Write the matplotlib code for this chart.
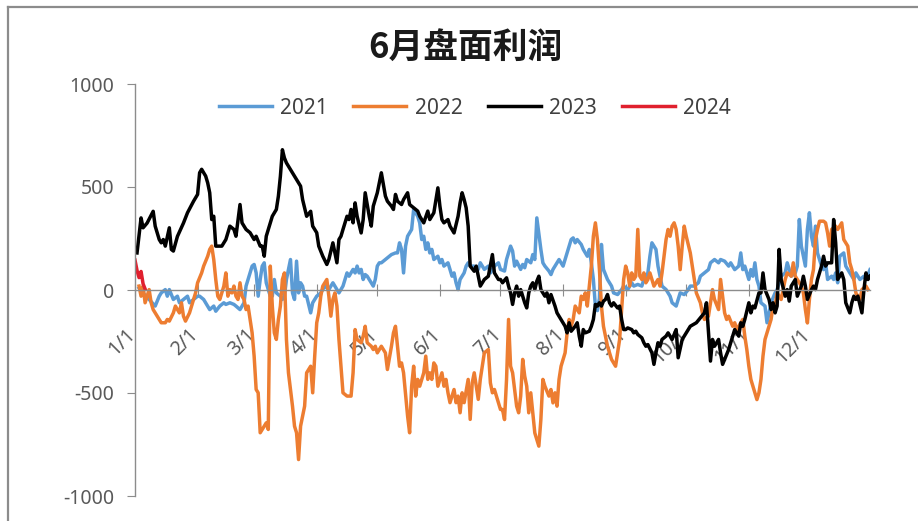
import matplotlib
matplotlib.use('Agg')
import matplotlib.pyplot as plt
import matplotlib.dates as mdates
from matplotlib.lines import Line2D
from matplotlib.transforms import ScaledTranslation
import pandas as pd

plt.rcParams['font.family'] = ['Noto Sans', 'Noto Sans CJK SC', 'DejaVu Sans']
plt.rcParams['axes.unicode_minus'] = False

# day of year (0 = Jan 1) and profit for each contract year
days_2021 = [2, 4, 7, 10, 12, 13, 15, 16, 17, 19, 21, 22, 24, 26, 27, 29, 31, 32, 34, 36,
             37, 39, 40, 42, 44, 45, 47, 49, 50, 52, 54, 55, 56, 58, 59, 60, 61, 62, 63, 64,
             65, 67, 68, 69, 70, 72, 73, 74, 75, 77, 78, 79, 80, 81, 82, 83, 84, 85, 87, 88,
             90, 92, 93, 94, 96, 98, 99, 101, 103, 104, 105, 106, 108, 109, 110, 111, 112, 113, 114, 115,
             116, 118, 119, 120, 121, 122, 124, 126, 127, 129, 130, 131, 132, 133, 134, 135, 137, 138, 140, 141,
             142, 143, 144, 145, 146, 147, 148, 150, 151, 152, 153, 155, 156, 157, 158, 159, 160, 161, 163, 164,
             165, 166, 168, 170, 171, 173, 175, 176, 178, 180, 181, 183, 184, 186, 187, 188, 189, 191, 192, 193,
             194, 196, 197, 198, 199, 201, 202, 203, 205, 206, 207, 208, 210, 212, 213, 215, 216, 217, 218, 219,
             221, 222, 224, 225, 226, 227, 228, 229, 230, 231, 232, 234, 236, 237, 239, 241, 242, 244, 246, 247,
             249, 251, 252, 254, 255, 256, 258, 259, 260, 261, 263, 265, 266, 268, 270, 272, 274, 275, 277, 279,
             280, 282, 284, 285, 287, 289, 290, 292, 294, 295, 297, 299, 300, 301, 302, 304, 305, 306, 307, 308,
             309, 310, 312, 313, 314, 315, 317, 318, 319, 320, 322, 323, 324, 325, 327, 328, 329, 330, 331, 332,
             333, 334, 335, 336, 337, 338, 340, 341, 342, 343, 345, 346, 347, 348, 349, 351, 352, 354, 356, 357,
             359, 361, 362, 364]
vals_2021 = [10, -14, -46, -78, -30, -14, 2, -30, 2, -46, -30, -62, -46, -30, -62, -46, -30, -30, -46, -78,
             -95, -78, -103, -78, -62, -70, -62, -70, -78, -95, -62, 19, 51, 116, 124, 83, -30, 51, 116, 132,
             35, -30, -30, 51, -14, -30, -46, -30, 51, 148, -14, -46, 140, -14, 35, 19, -30, -30, -111, -62,
             -30, -14, 2, 19, 2, 35, 19, -14, 19, 51, 83, 67, 100, 83, 116, 83, 100, 51, 75, 67,
             51, 19, 51, 116, 132, 132, 148, 164, 172, 180, 180, 229, 197, 83, 213, 261, 294, 391, 358, 326,
             245, 261, 197, 229, 180, 197, 148, 164, 132, 148, 116, 132, 100, 67, 83, 35, 2, 51, 83, 116,
             132, 116, 116, 100, 132, 100, 116, 83, 116, 132, 100, 92, 148, 213, 189, 116, 140, 100, 124, 108,
             148, 132, 172, 148, 350, 197, 132, 116, 92, 75, 100, 116, 148, 116, 148, 213, 245, 253, 229, 245,
             221, 197, 164, 197, 132, 51, -78, -100, -40, 221, 100, 51, 19, -14, -22, 2, 19, 2, 35, 19,
             27, 19, 51, 83, 164, 229, 197, 116, 67, 19, 2, -30, -62, -78, -14, -22, 2, 19, 19, 35,
             67, 83, 99, 132, 148, 132, 148, 140, 116, 132, 99, 116, 180, 99, 116, 51, 99, 67, 132, 51,
             19, -62, -78, -159, -111, -62, -14, 2, 35, 67, 83, 132, 99, 67, 83, 116, 342, 213, 164, 116,
             294, 375, 261, 213, 310, 180, 116, 99, 132, 51, 67, 51, 83, 35, 164, 180, 116, 83, 51, 83,
             51, 67, 51, 99]

days_2022 = [2, 3, 4, 5, 6, 7, 8, 9, 10, 12, 13, 15, 16, 17, 19, 20, 22, 23, 24, 25,
             27, 28, 29, 30, 31, 33, 34, 36, 37, 38, 39, 40, 41, 42, 44, 45, 46, 47, 48, 49,
             50, 51, 52, 53, 54, 55, 56, 57, 58, 59, 60, 61, 62, 64, 65, 66, 67, 68, 69, 70,
             71, 72, 73, 74, 75, 76, 77, 78, 79, 80, 81, 82, 84, 85, 87, 88, 89, 90, 91, 92,
             93, 95, 96, 97, 98, 99, 100, 101, 102, 103, 105, 107, 108, 109, 110, 112, 113, 114, 115, 117,
             118, 119, 120, 122, 123, 124, 125, 127, 128, 129, 130, 131, 132, 133, 135, 136, 137, 138, 139, 140,
             141, 143, 144, 145, 146, 147, 148, 149, 150, 152, 153, 154, 155, 156, 158, 159, 160, 161, 162, 163,
             165, 166, 167, 168, 170, 171, 172, 173, 175, 176, 177, 178, 180, 181, 182, 183, 184, 185, 186, 187,
             189, 190, 191, 192, 193, 194, 195, 196, 197, 198, 199, 200, 201, 202, 203, 205, 206, 207, 208, 209,
             210, 211, 212, 213, 214, 215, 216, 217, 218, 220, 221, 222, 223, 224, 225, 226, 227, 228, 229, 230,
             231, 232, 234, 235, 236, 237, 238, 239, 240, 241, 242, 243, 244, 245, 246, 247, 248, 249, 250, 251,
             252, 253, 254, 255, 256, 257, 259, 260, 261, 262, 263, 264, 265, 266, 267, 268, 269, 270, 271, 272,
             273, 275, 276, 277, 278, 280, 281, 282, 284, 285, 286, 287, 289, 290, 291, 292, 293, 294, 296, 297,
             298, 299, 301, 302, 303, 304, 305, 306, 308, 309, 310, 311, 312, 313, 315, 316, 317, 318, 320, 321,
             322, 323, 325, 326, 327, 328, 330, 331, 332, 333, 334, 335, 336, 337, 338, 339, 341, 342, 343, 344,
             345, 347, 348, 350, 351, 353, 354, 355, 356, 357, 359, 360, 362, 363]
vals_2022 = [19, -30, 19, -62, -30, 2, -62, -95, -111, -143, -159, -159, -143, -151, -111, -78, -111, -62, -127, -151,
             -111, -78, -46, -14, 35, 83, 116, 164, 197, 213, 148, 51, -30, -46, 19, 83, -30, 2, -14, 19,
             -30, -46, 35, -30, -46, -95, -78, -143, -208, -321, -483, -499, -693, -661, -645, -677, 116, -78, -208, -240,
             -143, -78, 51, 83, -240, -402, -483, -564, -661, -693, -823, -661, -564, -402, -370, -499, -321, -159, -111, -30,
             19, 51, -30, -127, -46, -14, -78, -240, -370, -499, -515, -515, -402, -192, -240, -256, -224, -176, -256, -273,
             -289, -273, -305, -273, -289, -305, -386, -273, -208, -176, -273, -370, -354, -402, -612, -693, -467, -370, -515, -434,
             -467, -402, -321, -434, -402, -434, -354, -370, -467, -402, -467, -434, -499, -547, -483, -547, -515, -596, -499, -547,
             -434, -628, -451, -402, -531, -434, -370, -305, -289, -451, -499, -483, -547, -580, -580, -629, -434, -143, -370, -402,
             -564, -596, -515, -337, -418, -467, -596, -499, -596, -694, -726, -758, -629, -434, -467, -515, -483, -548, -499, -564,
             -434, -370, -337, -305, -208, -143, -176, -143, -78, -111, -30, -46, -14, -78, 19, 116, 261, 326, 245, 99,
             -78, -176, -273, -305, -337, -354, -370, -305, -240, -95, 51, 116, 83, 19, 83, 51, 67, 294, 67, 51,
             83, 35, 51, 83, 51, 19, 51, 19, 83, 164, 245, 294, 261, 310, 326, 294, 213, 99, 213, 310,
             261, 180, 116, 51, -14, -62, -111, -143, -127, -62, 2, -46, -95, 51, -30, -111, -143, -127, -176, -159,
             -192, -176, -143, -224, -289, -370, -434, -467, -532, -499, -434, -321, -240, -208, -143, -78, -78, -14, -46, 2,
             51, 83, 67, 132, 67, 51, 19, -14, -95, -160, -46, 51, 99, 245, 294, 334, 334, 326, 277, 213,
             294, 310, 294, 326, 245, 213, 132, 99, 51, -14, -46, 2, 19, 2]

days_2023 = [1, 3, 4, 6, 9, 10, 12, 13, 14, 15, 17, 18, 19, 21, 24, 26, 29, 31, 32, 33,
             35, 36, 37, 38, 39, 40, 43, 45, 47, 49, 50, 52, 53, 54, 55, 57, 59, 60, 62, 63,
             64, 65, 67, 68, 70, 71, 72, 73, 74, 75, 77, 78, 80, 82, 83, 85, 87, 88, 90, 91,
             93, 95, 96, 98, 100, 101, 102, 103, 105, 106, 107, 108, 109, 110, 112, 113, 114, 116, 117, 118,
             120, 122, 124, 125, 127, 128, 129, 130, 132, 133, 135, 136, 137, 139, 140, 141, 143, 145, 146, 148,
             150, 151, 152, 153, 155, 156, 158, 160, 161, 162, 163, 164, 165, 166, 168, 169, 170, 171, 173, 175,
             177, 178, 180, 181, 182, 184, 185, 186, 187, 188, 189, 190, 191, 193, 194, 195, 196, 197, 198, 199,
             200, 201, 203, 204, 205, 206, 208, 209, 210, 211, 213, 214, 215, 216, 218, 219, 220, 221, 222, 223,
             225, 226, 227, 228, 229, 230, 231, 232, 233, 234, 235, 236, 237, 239, 240, 241, 242, 243, 244, 246,
             247, 248, 249, 251, 252, 253, 254, 256, 257, 258, 259, 260, 261, 263, 264, 266, 268, 269, 271, 273,
             275, 278, 280, 282, 283, 285, 286, 287, 289, 290, 291, 292, 294, 295, 296, 297, 299, 300, 301, 302,
             304, 305, 306, 307, 309, 310, 311, 312, 314, 315, 316, 317, 318, 319, 320, 322, 323, 324, 325, 327,
             328, 330, 331, 332, 333, 335, 336, 337, 338, 340, 341, 342, 343, 345, 346, 347, 348, 350, 351, 352,
             354, 355, 356, 357, 358, 360, 361, 362, 363, 364]
vals_2023 = [180, 350, 302, 325, 382, 310, 245, 229, 245, 213, 302, 197, 189, 260, 325, 375, 431, 464, 569, 586,
             553, 520, 472, 342, 358, 213, 213, 245, 310, 294, 261, 415, 326, 310, 294, 278, 245, 261, 213, 213,
             164, 261, 326, 358, 391, 455, 552, 681, 641, 617, 585, 569, 537, 504, 439, 358, 382, 310, 278, 213,
             164, 124, 148, 229, 132, 245, 261, 294, 358, 342, 391, 326, 423, 358, 277, 342, 472, 358, 310, 407,
             472, 569, 456, 431, 407, 391, 464, 431, 415, 439, 472, 415, 407, 391, 383, 358, 326, 383, 342, 375,
             496, 407, 342, 326, 342, 310, 277, 358, 423, 472, 439, 399, 310, 116, 91, 116, 67, 19, 51, 67,
             172, 83, 51, 51, 35, 59, 19, -14, -70, -14, 19, -30, 2, -62, -87, -14, 19, 35, 2, 43,
             67, 2, -30, -14, -62, -22, -78, -111, -127, -143, -176, -208, -159, -200, -176, -159, -224, -273, -192, -208,
             -200, -176, -143, -70, -78, -62, -78, -54, -46, -22, -62, -78, -62, -87, -78, -143, -192, -192, -184, -192,
             -208, -200, -216, -232, -256, -273, -265, -305, -361, -305, -256, -273, -240, -224, -208, -240, -192, -329, -240, -208,
             -176, -159, -135, -111, -62, -345, -240, -273, -240, -305, -361, -337, -289, -256, -224, -192, -224, -159, -176, -143,
             -62, -111, -78, -87, -14, -14, 83, 2, -46, -95, -62, -111, -78, 197, 51, -30, 2, -54, 19, 51,
             -30, 19, 67, 19, -46, 2, 19, 2, 51, 116, 164, 116, 132, 132, 342, 229, 51, 83, 51, -62,
             -111, -62, -30, -46, -30, -111, 2, 83, 51, 67]

days_2024 = [0, 1, 2, 3, 4, 5]
vals_2024 = [145, 95, 60, 90, 30, 5]

series = [
    ('2021', days_2021, vals_2021, '#5B9BD5'),
    ('2022', days_2022, vals_2022, '#ED7D31'),
    ('2023', days_2023, vals_2023, '#000000'),
    ('2024', days_2024, vals_2024, '#E0202E'),
]

base = pd.Timestamp('2001-01-01')


def to_dates(days):
    return base + pd.to_timedelta(days, unit='D')


fig = plt.figure(figsize=(9.18, 5.21), dpi=100)
ax = fig.add_axes([135 / 918, 25 / 521, 735 / 918, 412 / 521])

for name, d, v, c in series:
    ax.plot(to_dates(d), v, color=c, lw=2.5, label=name, solid_joinstyle='round')

ax.set_ylim(-1000, 1000)
ax.set_xlim(base, base + pd.Timedelta(days=364))
ax.set_yticks([-1000, -500, 0, 500, 1000])

ax.xaxis.set_major_locator(mdates.MonthLocator())
ax.xaxis.set_major_formatter(mdates.DateFormatter('%-m/%-d'))

axis_grey = '#8c8c8c'
for s in ['top', 'right']:
    ax.spines[s].set_visible(False)
ax.spines['left'].set_color(axis_grey)
ax.spines['bottom'].set_color(axis_grey)
ax.spines['bottom'].set_position(('data', 0))
ax.spines['left'].set_linewidth(1.0)
ax.spines['bottom'].set_linewidth(1.0)

ax.tick_params(axis='y', direction='out', length=6, color=axis_grey,
               labelsize=14, labelcolor='#595959', pad=9)
ax.tick_params(axis='x', direction='inout', length=8, color=axis_grey,
               labelsize=14, labelcolor='#595959', pad=21, labelrotation=45)

# month labels sit below the zero line, shifted so their right end meets the tick
shift = ScaledTranslation(-9 / 100, 0, fig.dpi_scale_trans)
for tick in ax.xaxis.get_major_ticks():
    tick.label1.set_horizontalalignment('right')
    tick.label1.set_verticalalignment('top')
    tick.label1.set_rotation_mode('anchor')
    tick.label1.set_transform(tick.label1.get_transform() + shift)
ax.patch.set_alpha(0)

fig.text(465 / 918, 1 - 47 / 521, '6月盘面利润', ha='center', va='center',
         fontsize=25, fontweight='bold', color='#1a1a1a',
         family=['Noto Sans CJK SC', 'DejaVu Sans'])

fig.legend(loc='center', bbox_to_anchor=(475 / 918, 1 - 108 / 521), ncol=4,
           frameon=False, fontsize=15, labelcolor='#404040',
           handlelength=2.55, handletextpad=0.4, columnspacing=1.2)

# chart area border (left and top edges)
fig.add_artist(Line2D([7.5 / 918, 7.5 / 918], [0, 1 - 6.5 / 521],
                      transform=fig.transFigure, color=axis_grey, lw=1.6))
fig.add_artist(Line2D([7.5 / 918, 1], [1 - 6.5 / 521, 1 - 6.5 / 521],
                      transform=fig.transFigure, color=axis_grey, lw=1.6))

fig.savefig('out.png', dpi=100)
